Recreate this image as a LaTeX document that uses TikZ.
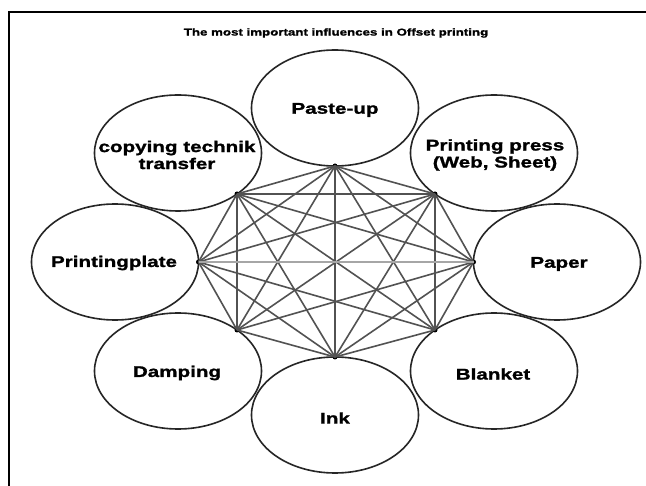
\documentclass[tikz,border=0pt]{standalone}
\usepackage{fontspec}
\setmainfont{Liberation Sans}[FakeStretch=1.33, BoldFeatures={FakeBold=1.4}]
\usetikzlibrary{shapes.geometric,calc}

\tikzset{
  bubble/.style={ellipse, draw=black!85, line width=1.6pt,
    minimum width=167pt, minimum height=116pt, inner sep=0pt, outer sep=0pt},
  bubbletext/.style={font=\fontsize{15.5}{17}\selectfont\bfseries, align=center, inner sep=0pt},
  hub/.style={circle, fill=black, inner sep=0pt, minimum size=5pt},
  link/.style={draw=black!68, line width=1.6pt},
  faintlink/.style={draw=black!35, line width=1.4pt},
  frameline/.style={line width=2.8pt, line cap=rect}
}

\begin{document}
\begin{tikzpicture}[x=1pt, y=-1pt]
  \useasboundingbox (0,0) rectangle (646,486);
  \fill[white] (0,0) rectangle (646,486);

  % frame along the top and the left side
  \coordinate (ftl) at (9,12);
  \coordinate (ftr) at (646,12);
  \coordinate (fbl) at (9,486);
  \draw[frameline] (ftr) -- (ftl) -- (fbl);

  % title
  \node[font=\fontsize{10}{11}\selectfont\bfseries, inner sep=0pt] (title) at (336,33)
    {The most important influences in Offset printing};

  % the eight influences
  \node[bubble] (pu) at (335,108) {};
  \node[bubble] (cp) at (178,153) {};
  \node[bubble] (pp) at (494,153) {};
  \node[bubble] (pl) at (115,262) {};
  \node[bubble] (pa) at (557,262) {};
  \node[bubble] (da) at (178,371) {};
  \node[bubble] (bl) at (494,371) {};
  \node[bubble] (in) at (335,415) {};

  \node[bubbletext] (tpu) at (335,110) {Paste-up};
  \node[bubbletext] (tcp) at (177,155) {copying technik\\transfer};
  \node[bubbletext] (tpp) at (495,155) {Printing press\\(Web, Sheet)};
  \node[bubbletext] (tpl) at (114,263) {Printingplate};
  \node[bubbletext] (tpa) at (559,264) {Paper};
  \node[bubbletext] (tda) at (177,373) {Damping};
  \node[bubbletext] (tbl) at (493,374) {Blanket};
  \node[bubbletext] (tin) at (335,418) {Ink};

  % connection points on the rims
  \node[hub] (hpu) at (pu.south) {};
  \node[hub] (hin) at (in.north) {};
  \node[hub] (hpl) at (pl.east) {};
  \node[hub] (hpa) at (pa.west) {};
  \node[hub] (hcp) at ($(cp.center)+(59,41)$) {};
  \node[hub] (hpp) at ($(pp.center)+(-59,41)$) {};
  \node[hub] (hda) at ($(da.center)+(59,-41)$) {};
  \node[hub] (hbl) at ($(bl.center)+(-59,-41)$) {};

  % every influence linked with the others
  \foreach \a/\b in {hpu/hcp, hpu/hpp, hpu/hpl, hpu/hpa, hpu/hda, hpu/hbl, hpu/hin,
                     hcp/hpp, hcp/hpl, hcp/hpa, hcp/hda, hcp/hbl, hcp/hin,
                     hpp/hpl, hpp/hpa, hpp/hda, hpp/hbl, hpp/hin,
                     hpl/hda, hpl/hbl, hpl/hin,
                     hpa/hda, hpa/hbl, hpa/hin,
                     hda/hin, hbl/hin}
    \draw[link] (\a.center) -- (\b.center);
  \draw[faintlink] (hpl.center) -- (hpa.center);
\end{tikzpicture}
\end{document}
